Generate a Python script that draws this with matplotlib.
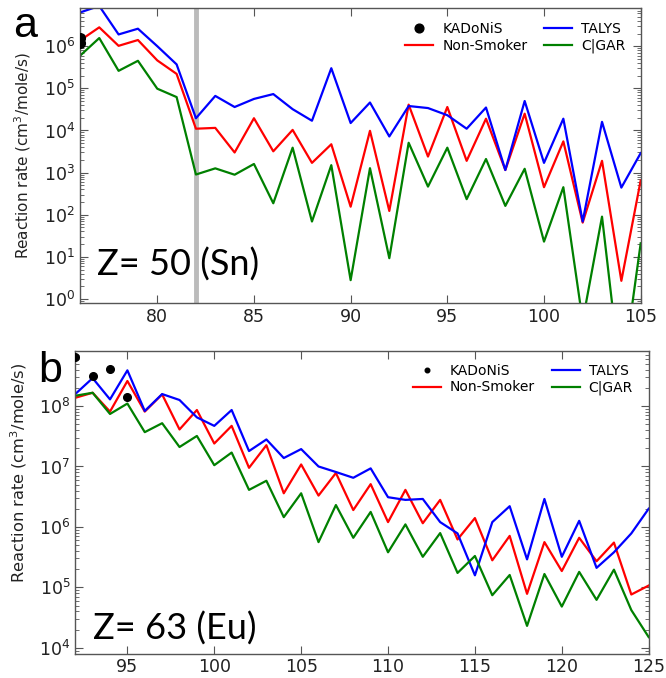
import matplotlib
matplotlib.use("Agg")
import matplotlib.pyplot as plt
from matplotlib.ticker import LogLocator, NullFormatter
import numpy as np

# ---- Z = 50 (Sn) ----
n_sn = np.arange(76, 106)
talys_sn = [6.3e6, 9e6, 1.9e6, 2.6e6, 1.0e6, 3.7e5, 1.95e4, 6.6e4, 3.6e4, 5.6e4,
            7.3e4, 3.2e4, 1.7e4, 3.0e5, 1.5e4, 4.6e4, 7.2e3, 3.8e4, 3.4e4, 2.3e4,
            1.1e4, 3.5e4, 1.15e3, 5.0e4, 1.7e3, 1.9e4, 69, 1.6e4, 440, 2.9e3]
nonsmoker_sn = [1.36e6, 2.8e6, 1.02e6, 1.4e6, 4.6e5, 2.2e5, 1.1e4, 1.15e4, 3.0e3, 1.95e4,
                3.2e3, 1.03e4, 1.7e3, 4.7e3, 155, 9.8e3, 123, 4.1e4, 2.4e3, 3.6e4,
                1.9e3, 1.9e4, 1.15e3, 2.5e4, 450, 5.5e3, 65, 1.9e3, 2.7, 650]
cigar_sn = [5.9e5, 1.56e6, 2.6e5, 4.5e5, 9.8e4, 6.2e4, 900, 1.26e3, 890, 1.6e3,
            187, 3.9e3, 69, 1.5e3, 2.8, 1.27e3, 9.3, 5.1e3, 465, 3.9e3,
            234, 2.1e3, 162, 1.23e3, 23, 450, 0.3, 90, 0.01, 21]
kadonis_n_sn = [76, 76]
kadonis_sn = [1.6e6, 1.17e6]

# ---- Z = 63 (Eu) ----
n_eu = np.arange(92, 126)
talys_eu = [1.58e8, 2.9e8, 1.29e8, 3.9e8, 8.3e7, 1.58e8, 1.26e8, 6.5e7, 4.7e7, 8.6e7,
            1.8e7, 2.8e7, 1.38e7, 1.94e7, 1.0e7, 8.1e6, 6.5e6, 9.3e6, 3.1e6, 2.8e6,
            2.9e6, 1.2e6, 7.8e5, 1.58e5, 1.2e6, 2.2e6, 2.9e5, 2.9e6, 3.2e5, 1.26e6,
            2.1e5, 3.8e5, 7.8e5, 2.0e6]
nonsmoker_eu = [1.37e8, 1.66e8, 8.1e7, 2.6e8, 8.1e7, 1.56e8, 4.1e7, 8.6e7, 2.4e7, 4.7e7,
                9.5e6, 2.25e7, 3.6e6, 1.08e7, 3.3e6, 7.8e6, 1.9e6, 5.1e6, 1.2e6, 4.1e6,
                1.15e6, 2.8e6, 6.2e5, 1.4e6, 2.8e5, 7.1e5, 7.8e4, 5.6e5, 1.86e5, 6.6e5,
                2.7e5, 5.5e5, 7.6e4, 1.07e5]
cigar_eu = [1.48e8, 1.66e8, 7.4e7, 1.1e8, 3.7e7, 5.2e7, 2.1e7, 3.2e7, 1.05e7, 1.7e7,
            4.1e6, 5.8e6, 1.45e6, 3.6e6, 5.6e5, 2.3e6, 6.6e5, 1.77e6, 3.8e5, 1.1e6,
            3.2e5, 7.9e5, 1.73e5, 3.3e5, 7.4e4, 1.6e5, 2.3e4, 1.66e5, 4.8e4, 1.8e5,
            6.2e4, 1.96e5, 4.2e4, 1.5e4]
kadonis_n_eu = [92, 93, 94, 95]
kadonis_eu = [6.6e8, 3.1e8, 4.1e8, 1.42e8]

fig = plt.figure(figsize=(6.66, 6.78), dpi=100)
ax_a = fig.add_axes([0.120, 0.553, 0.842, 0.435])
ax_b = fig.add_axes([0.113, 0.036, 0.861, 0.447])

spine_col = "#555555"


def style_axis(ax, label_xy, label_size):
    ax.set_yscale("log")
    for s in ax.spines.values():
        s.set_color(spine_col)
        s.set_linewidth(1.0)
    ax.tick_params(which="both", direction="in", top=True, right=True,
                   colors=spine_col, labelcolor="#222222", labelsize=12.5)
    ax.tick_params(which="major", length=6)
    ax.tick_params(which="minor", length=3)
    ax.yaxis.set_major_locator(LogLocator(base=10, numticks=15))
    ax.yaxis.set_minor_locator(LogLocator(base=10, subs=np.arange(2, 10), numticks=15))
    ax.yaxis.set_minor_formatter(NullFormatter())
    ax.set_ylabel("Reaction rate (cm$^3$/mole/s)", fontsize=label_size, color="#222222")
    ax.yaxis.set_label_coords(*label_xy)


lw = 1.6
leg_kw = dict(loc="upper right", ncol=2, frameon=False, fontsize=10,
              handlelength=2.0, columnspacing=1.2, handletextpad=0.65,
              labelspacing=0.2, borderaxespad=0.0)

# panel a
style_axis(ax_a, (-0.083, 0.5), 11)
ax_a.axvline(82, color="#bbbbbb", lw=3.5, zorder=1)
ax_a.plot(kadonis_n_sn, kadonis_sn, "o", color="black", ms=7, label="KADoNiS", zorder=5)
ax_a.plot(n_sn, nonsmoker_sn, color="red", lw=lw, label="Non-Smoker")
ax_a.plot(n_sn, talys_sn, color="blue", lw=lw, label="TALYS")
ax_a.plot(n_sn, cigar_sn, color="green", lw=lw, label="C|GAR")
ax_a.set_xlim(76, 105)
ax_a.set_ylim(0.8, 8e6)
ax_a.set_xticks([80, 85, 90, 95, 100, 105])
ax_a.legend(bbox_to_anchor=(0.982, 0.972), markerscale=0.9, **leg_kw)

# panel b
style_axis(ax_b, (-0.08, 0.597), 11.7)
ax_b.plot(kadonis_n_eu, kadonis_eu, "o", color="black", ms=5.5, label="KADoNiS", zorder=5)
ax_b.plot(n_eu, nonsmoker_eu, color="red", lw=lw, label="Non-Smoker")
ax_b.plot(n_eu, talys_eu, color="blue", lw=lw, label="TALYS")
ax_b.plot(n_eu, cigar_eu, color="green", lw=lw, label="C|GAR")
ax_b.set_xlim(92, 125)
ax_b.set_ylim(8e3, 8.3e8)
ax_b.set_xticks([95, 100, 105, 110, 115, 120, 125])
ax_b.legend(bbox_to_anchor=(0.982, 0.975), markerscale=0.6, **leg_kw)

# panel letters and element labels
fig.text(0.0195, 0.945, "a", fontsize=31, family="Liberation Sans")
fig.text(0.057, 0.4366, "b", fontsize=31, family="Liberation Sans")
fig.text(0.146, 0.593, "Z= 50 (Sn)", fontsize=26, family="Lato")
fig.text(0.139, 0.056, "Z= 63 (Eu)", fontsize=26, family="Lato")

fig.savefig("out.png", dpi=100)
